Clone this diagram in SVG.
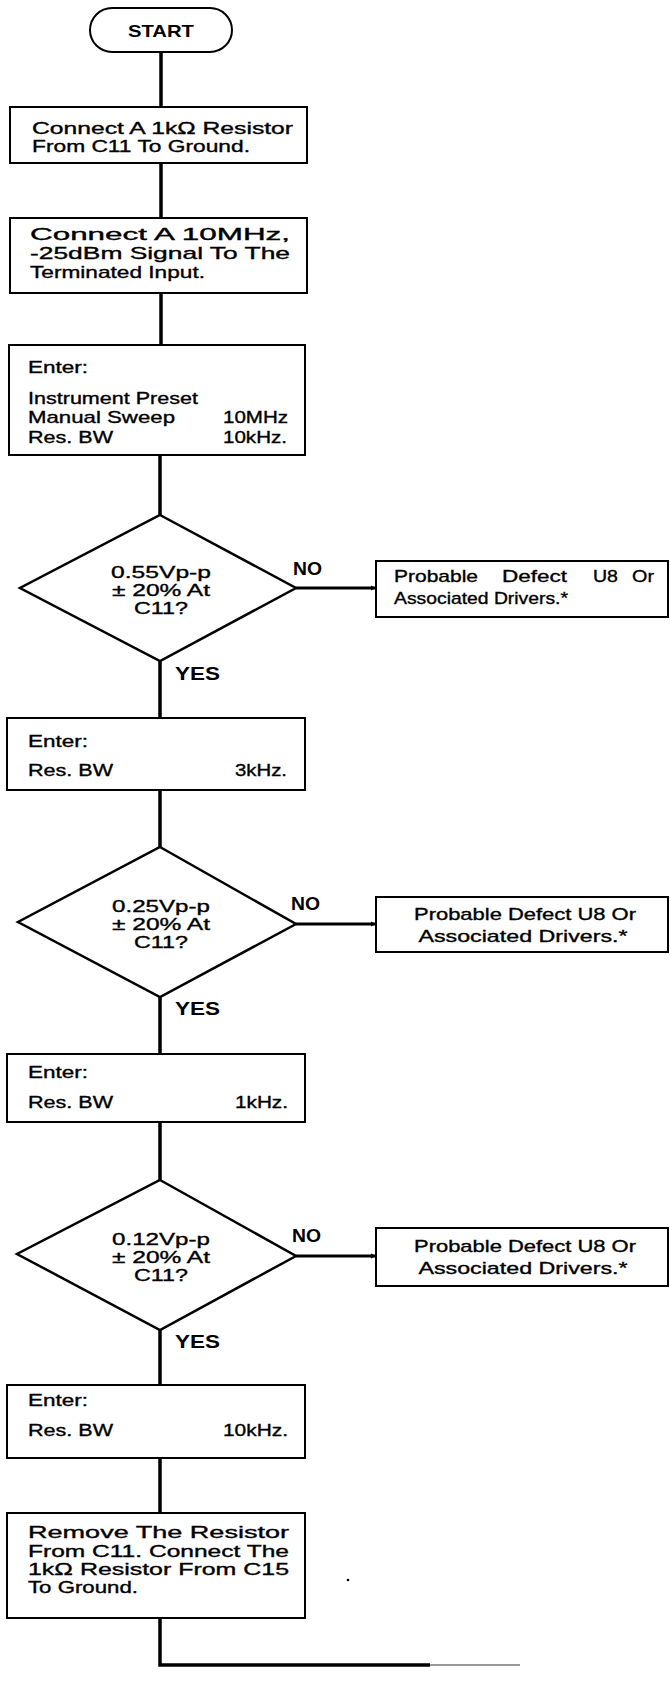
<svg xmlns="http://www.w3.org/2000/svg" width="670" height="1682" viewBox="0 0 670 1682">
<style>
  .box { fill: #fff; stroke: #000; stroke-width: 2; }
  .dia { fill: #fff; stroke: #000; stroke-width: 2.5; stroke-linejoin: miter; }
  .t { font-family: "Liberation Sans", Arial, sans-serif; font-size: 17px; fill: #000; stroke: #000; stroke-width: 0.35; }
  .tb { font-family: "Liberation Sans", Arial, sans-serif; font-size: 17px; font-weight: bold; fill: #000; }
  .lbl { font-family: "Liberation Sans", Arial, sans-serif; font-size: 19px; font-weight: bold; fill: #000; }
  .c { text-anchor: middle; }
  .conn { stroke: #000; stroke-width: 3.5; fill: none; }
  .hconn { stroke: #000; stroke-width: 3; fill: none; }
</style>
<defs>
  <marker id="tip" markerWidth="6" markerHeight="6" refX="5" refY="3" orient="auto" markerUnits="userSpaceOnUse">
    <path d="M0,0.5 L5,3 L0,5.5 Z" fill="#000"/>
  </marker>
</defs>
<rect width="670" height="1682" fill="#fff"/>

<g id="connectors">
  <line class="conn" x1="161" y1="52" x2="161" y2="107"/>
  <line class="conn" x1="161" y1="163" x2="161" y2="218"/>
  <line class="conn" x1="161" y1="293" x2="161" y2="345"/>
  <line class="conn" x1="160" y1="455" x2="160" y2="515"/>
  <line class="hconn" x1="296" y1="588" x2="376" y2="588" marker-end="url(#tip)"/>
  <line class="conn" x1="160" y1="661" x2="160" y2="718"/>
  <line class="conn" x1="160" y1="790" x2="160" y2="847"/>
  <line class="hconn" x1="296" y1="924" x2="376" y2="924" marker-end="url(#tip)"/>
  <line class="conn" x1="160" y1="997" x2="160" y2="1054"/>
  <line class="conn" x1="160" y1="1122" x2="160" y2="1180"/>
  <line class="hconn" x1="296" y1="1256" x2="376" y2="1256" marker-end="url(#tip)"/>
  <line class="conn" x1="160" y1="1330" x2="160" y2="1385"/>
  <line class="conn" x1="160" y1="1458" x2="160" y2="1513"/>
  <polyline class="conn" points="160,1618 160,1665 430,1665"/>
  <line x1="430" y1="1665" x2="520" y2="1665" stroke="#999" stroke-width="2"/>
</g>

<g id="start">
  <rect x="90" y="8" width="142" height="44" rx="22" class="box"/>
  <text class="tb c" x="161" y="37" textLength="66" lengthAdjust="spacingAndGlyphs">START</text>
</g>

<g id="step1">
  <rect x="10" y="107" width="297" height="56" class="box"/>
  <text class="t" x="32" y="134" textLength="261" lengthAdjust="spacingAndGlyphs">Connect  A  1kΩ  Resistor</text>
  <text class="t" x="32" y="152" textLength="218" lengthAdjust="spacingAndGlyphs">From C11 To Ground.</text>
</g>

<g id="step2">
  <rect x="10" y="218" width="297" height="75" class="box"/>
  <text class="t" x="30" y="240" textLength="260" lengthAdjust="spacingAndGlyphs">Connect   A   10MHz,</text>
  <text class="t" x="30" y="259" textLength="260" lengthAdjust="spacingAndGlyphs">-25dBm  Signal  To  The</text>
  <text class="t" x="30" y="278" textLength="175" lengthAdjust="spacingAndGlyphs">Terminated Input.</text>
</g>

<g id="step3">
  <rect x="9" y="345" width="296" height="110" class="box"/>
  <text class="t" x="28" y="373" textLength="60" lengthAdjust="spacingAndGlyphs">Enter:</text>
  <text class="t" x="28" y="404" textLength="170" lengthAdjust="spacingAndGlyphs">Instrument Preset</text>
  <text class="t" x="28" y="423" textLength="147" lengthAdjust="spacingAndGlyphs">Manual Sweep</text>
  <text class="t" x="223" y="423" textLength="65" lengthAdjust="spacingAndGlyphs">10MHz</text>
  <text class="t" x="28" y="443" textLength="85" lengthAdjust="spacingAndGlyphs">Res. BW</text>
  <text class="t" x="223" y="443" textLength="64" lengthAdjust="spacingAndGlyphs">10kHz.</text>
</g>

<g id="decision1">
  <polygon class="dia" points="160,515 296,588 160,661 20,588"/>
  <text class="t c" x="161" y="578" textLength="100" lengthAdjust="spacingAndGlyphs">0.55Vp-p</text>
  <text class="t c" x="161" y="596" textLength="98" lengthAdjust="spacingAndGlyphs">± 20% At</text>
  <text class="t c" x="161" y="614" textLength="54" lengthAdjust="spacingAndGlyphs">C11?</text>
  <text class="lbl" x="293" y="575" textLength="29" lengthAdjust="spacingAndGlyphs">NO</text>
  <text class="lbl" x="175" y="680" textLength="45" lengthAdjust="spacingAndGlyphs">YES</text>
</g>

<g id="defect1">
  <rect x="376" y="561" width="292" height="56" class="box"/>
  <text class="t" y="582"><tspan x="394" textLength="84" lengthAdjust="spacingAndGlyphs">Probable</tspan> <tspan x="502" textLength="65" lengthAdjust="spacingAndGlyphs">Defect</tspan> <tspan x="593" textLength="25" lengthAdjust="spacingAndGlyphs">U8</tspan> <tspan x="632" textLength="22" lengthAdjust="spacingAndGlyphs">Or</tspan></text>
  <text class="t" x="394" y="604" textLength="174" lengthAdjust="spacingAndGlyphs">Associated Drivers.*</text>
</g>

<g id="step4">
  <rect x="7" y="718" width="298" height="72" class="box"/>
  <text class="t" x="28" y="747" textLength="60" lengthAdjust="spacingAndGlyphs">Enter:</text>
  <text class="t" x="28" y="776" textLength="85" lengthAdjust="spacingAndGlyphs">Res. BW</text>
  <text class="t" x="235" y="776" textLength="52" lengthAdjust="spacingAndGlyphs">3kHz.</text>
</g>

<g id="decision2">
  <polygon class="dia" points="160,847 296,924 160,997 18,922"/>
  <text class="t c" x="161" y="912" textLength="98" lengthAdjust="spacingAndGlyphs">0.25Vp-p</text>
  <text class="t c" x="161" y="930" textLength="98" lengthAdjust="spacingAndGlyphs">± 20% At</text>
  <text class="t c" x="161" y="948" textLength="54" lengthAdjust="spacingAndGlyphs">C11?</text>
  <text class="lbl" x="291" y="910" textLength="29" lengthAdjust="spacingAndGlyphs">NO</text>
  <text class="lbl" x="175" y="1015" textLength="45" lengthAdjust="spacingAndGlyphs">YES</text>
</g>

<g id="defect2">
  <rect x="376" y="897" width="292" height="55" class="box"/>
  <text class="t c" x="525" y="920" textLength="222" lengthAdjust="spacingAndGlyphs">Probable Defect U8 Or</text>
  <text class="t c" x="523" y="942" textLength="209" lengthAdjust="spacingAndGlyphs">Associated Drivers.*</text>
</g>

<g id="step5">
  <rect x="7" y="1054" width="298" height="68" class="box"/>
  <text class="t" x="28" y="1078" textLength="60" lengthAdjust="spacingAndGlyphs">Enter:</text>
  <text class="t" x="28" y="1108" textLength="85" lengthAdjust="spacingAndGlyphs">Res. BW</text>
  <text class="t" x="235" y="1108" textLength="53" lengthAdjust="spacingAndGlyphs">1kHz.</text>
</g>

<g id="decision3">
  <polygon class="dia" points="160,1180 296,1256 160,1330 17,1254"/>
  <text class="t c" x="161" y="1245" textLength="98" lengthAdjust="spacingAndGlyphs">0.12Vp-p</text>
  <text class="t c" x="161" y="1263" textLength="98" lengthAdjust="spacingAndGlyphs">± 20% At</text>
  <text class="t c" x="161" y="1281" textLength="54" lengthAdjust="spacingAndGlyphs">C11?</text>
  <text class="lbl" x="292" y="1242" textLength="29" lengthAdjust="spacingAndGlyphs">NO</text>
  <text class="lbl" x="175" y="1348" textLength="45" lengthAdjust="spacingAndGlyphs">YES</text>
</g>

<g id="defect3">
  <rect x="376" y="1228" width="292" height="58" class="box"/>
  <text class="t c" x="525" y="1252" textLength="222" lengthAdjust="spacingAndGlyphs">Probable Defect U8 Or</text>
  <text class="t c" x="523" y="1274" textLength="209" lengthAdjust="spacingAndGlyphs">Associated Drivers.*</text>
</g>

<g id="step6">
  <rect x="7" y="1385" width="298" height="73" class="box"/>
  <text class="t" x="28" y="1406" textLength="60" lengthAdjust="spacingAndGlyphs">Enter:</text>
  <text class="t" x="28" y="1436" textLength="85" lengthAdjust="spacingAndGlyphs">Res. BW</text>
  <text class="t" x="223" y="1436" textLength="65" lengthAdjust="spacingAndGlyphs">10kHz.</text>
</g>

<g id="step7">
  <rect x="7" y="1513" width="298" height="105" class="box"/>
  <text class="t" x="28" y="1538" textLength="261" lengthAdjust="spacingAndGlyphs">Remove  The  Resistor</text>
  <text class="t" x="28" y="1557" textLength="261" lengthAdjust="spacingAndGlyphs">From C11. Connect The</text>
  <text class="t" x="28" y="1575" textLength="261" lengthAdjust="spacingAndGlyphs">1kΩ Resistor From C15</text>
  <text class="t" x="28" y="1593" textLength="110" lengthAdjust="spacingAndGlyphs">To Ground.</text>
</g>

<circle cx="348" cy="1580" r="1.3" fill="#000"/>
</svg>
